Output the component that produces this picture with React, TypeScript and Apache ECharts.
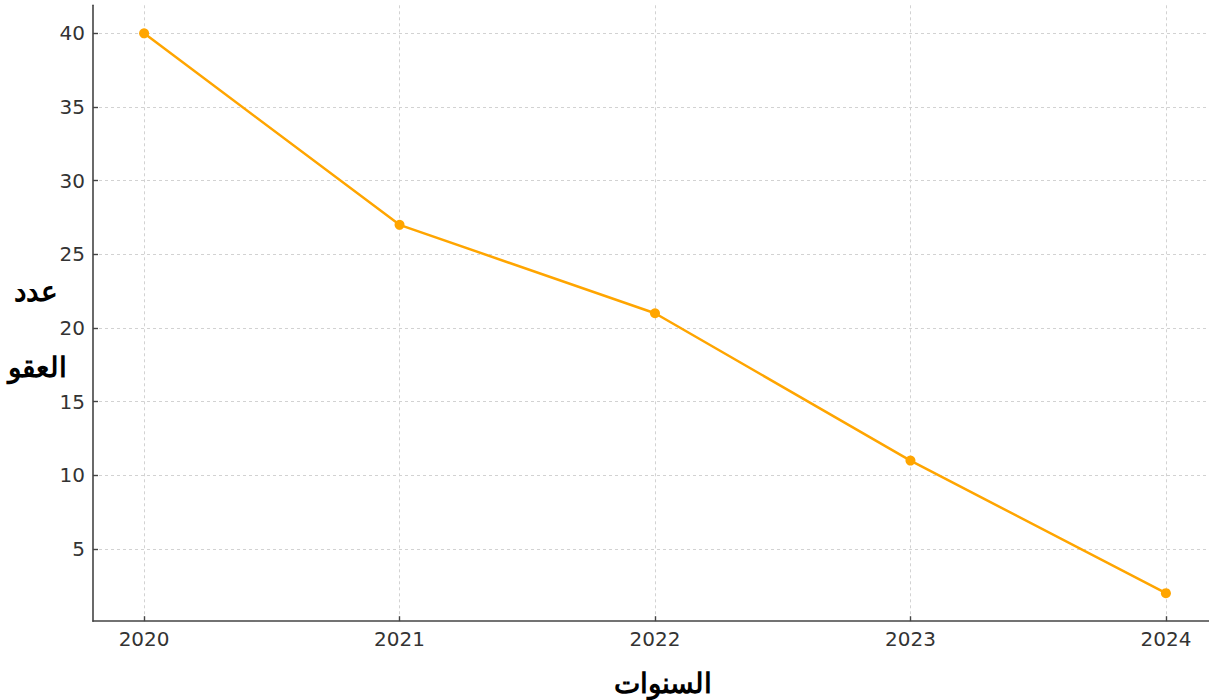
import React, { useEffect, useRef } from "react";
import * as echarts from "echarts";

const years = [2020, 2021, 2022, 2023, 2024];
const counts = [40, 27, 21, 11, 2];
const yTicks = [5, 10, 15, 20, 25, 30, 35, 40];
const xTitle = "السنوات";
const yTitleLines = ["عدد", "العقو"];

export default function App() {
  const ref = useRef<HTMLDivElement>(null);
  useEffect(() => {
    if (!ref.current) return;
    const chart = echarts.init(ref.current, undefined, { renderer: "svg" });
    const labelStyle = {
      color: "#333333",
      fontSize: 20,
      fontFamily: "DejaVu Sans",
    };
    const arabicFont = "'DejaVu Serif', serif";
    chart.setOption({
      animation: false,
      backgroundColor: "#ffffff",
      grid: { left: 93, right: 13, top: 5.3, bottom: 78.8, containLabel: false },
      xAxis: {
        type: "value",
        min: 2019.8,
        max: 2024.2,
        axisLine: { show: true, onZero: false, lineStyle: { color: "#444444", width: 1.6 } },
        axisTick: { show: true, inside: true, length: 5, customValues: years, lineStyle: { color: "#444444", width: 1.4 } },
        axisLabel: { ...labelStyle, margin: 8, customValues: years, formatter: (v: number) => String(v) },
        splitLine: { show: true, lineStyle: { color: "#d2d2d2", type: [3, 3], width: 1 } },
      },
      yAxis: {
        type: "value",
        min: 0.1,
        max: 41.9,
        axisLine: { show: true, onZero: false, lineStyle: { color: "#444444", width: 1.6 } },
        axisTick: { show: true, inside: true, length: 5, customValues: yTicks, lineStyle: { color: "#444444", width: 1.4 } },
        axisLabel: { ...labelStyle, margin: 8, customValues: yTicks, formatter: (v: number) => String(v) },
        splitLine: { show: true, lineStyle: { color: "#d2d2d2", type: [3, 3], width: 1 } },
      },
      graphic: [
        {
          type: "text",
          x: 663,
          y: 683,
          style: { text: xTitle, fill: "#000", font: `bold 28px ${arabicFont}`, textAlign: "center", textVerticalAlign: "middle" },
        },
        {
          type: "text",
          x: 36,
          y: 291,
          style: { text: yTitleLines[0], fill: "#000", font: `bold 28px ${arabicFont}`, textAlign: "center", textVerticalAlign: "middle" },
        },
        {
          type: "text",
          x: 37,
          y: 367,
          style: { text: yTitleLines[1], fill: "#000", font: `bold 28px ${arabicFont}`, textAlign: "center", textVerticalAlign: "middle" },
        },
      ],
      series: [
        {
          type: "line",
          data: years.map((y, i) => [y, counts[i]]),
          symbol: "circle",
          symbolSize: 10,
          lineStyle: { color: "#FFA500", width: 2.5 },
          itemStyle: { color: "#FFA500" },
          z: 5,
        },
      ],
    });
    return () => chart.dispose();
  }, []);
  return (
    <div style={{ position: "fixed", left: 0, top: 0, width: 1209, height: 700, overflow: "hidden" }}>
      <div ref={ref} style={{ width: 1230, height: 700 }} />
    </div>
  );
}
